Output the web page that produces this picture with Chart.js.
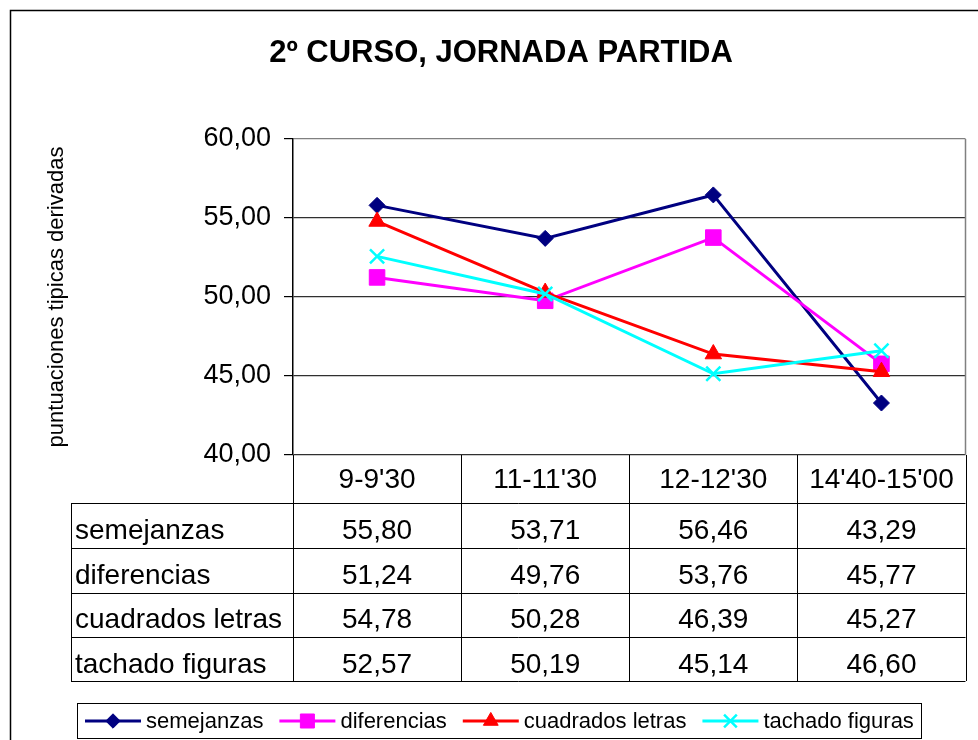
<!DOCTYPE html>
<html>
<head>
<meta charset="utf-8">
<script src="https://cdn.jsdelivr.net/npm/chart.js@4/dist/chart.umd.min.js"></script>
<style>
  body { margin:0; background:#fff; }
  #wrap { width:978px; height:740px; }
</style>
</head>
<body>
<div id="wrap"><canvas id="chart" width="978" height="740"></canvas></div>
<script>
// data
const TITLE = '2º CURSO, JORNADA PARTIDA';
const Y_TITLE = 'puntuaciones tipicas derivadas';
const categories = ["9-9'30", "11-11'30", "12-12'30", "14'40-15'00"];
const semejanzas = [55.80, 53.71, 56.46, 43.29];
const diferencias = [51.24, 49.76, 53.76, 45.77];
const cuadrados = [54.78, 50.28, 46.39, 45.27];
const tachado = [52.57, 50.19, 45.14, 46.60];
const seriesNames = ['semejanzas', 'diferencias', 'cuadrados letras', 'tachado figuras'];

const FONT = "'Liberation Sans', Arial, sans-serif";
const fmt = v => v.toFixed(2).replace('.', ',');

const styles = [
  {color:'#000080', pointStyle:'rectRot', radius:8},
  {color:'#FF00FF', pointStyle:'rect', radius:11},
  {color:'#FF0000', pointStyle:'triangle', radius:9.5},
  {color:'#00FFFF', pointStyle:'crossRot', radius:10}
];
const values = [semejanzas, diferencias, cuadrados, tachado];

const datasets = values.map((d, i) => ({
  label: seriesNames[i],
  data: d,
  borderColor: styles[i].color,
  backgroundColor: styles[i].color,
  borderWidth: 3,
  pointStyle: styles[i].pointStyle,
  pointRadius: styles[i].radius,
  pointHoverRadius: styles[i].radius,
  pointBorderWidth: styles[i].pointStyle === 'crossRot' ? 2.5 : 1,
  tension: 0,
  order: 4 - i
}));

// white background, outer frame, title
const frame = {
  id: 'frame',
  beforeDraw(chart) {
    const c = chart.ctx;
    c.save();
    c.fillStyle = '#fff';
    c.fillRect(0, 0, chart.width, chart.height);
    c.strokeStyle = '#000'; c.lineWidth = 1.5;
    c.beginPath();
    c.moveTo(10.5, 740); c.lineTo(10.5, 10.5); c.lineTo(978, 10.5);
    c.stroke();
    c.fillStyle = '#000';
    c.font = 'bold 31px ' + FONT;
    c.textAlign = 'center'; c.textBaseline = 'alphabetic';
    c.fillText(TITLE, 501, 62);
    c.restore();
  },
  afterDraw(chart) {
    const c = chart.ctx, a = chart.chartArea;
    c.save();
    c.strokeStyle = '#808080'; c.lineWidth = 1.5;
    c.beginPath();
    c.moveTo(a.right, a.top); c.lineTo(a.right, a.bottom);
    c.stroke();
    c.restore();
  }
};

// data table under the plot, columns taken from the x scale
const table = {
  id: 'table',
  afterDraw(chart) {
    const c = chart.ctx, a = chart.chartArea, x = chart.scales.x;
    const rowTops = [503, 548, 592.5, 637, 681];
    const labelLeft = 71;
    const cx = categories.map((_, i) => x.getPixelForValue(i));
    const edges = [a.left];
    for (let i = 0; i < cx.length - 1; i++) edges.push((cx[i] + cx[i + 1]) / 2);
    edges.push(a.right);
    const bottom = rowTops[rowTops.length - 1];

    c.save();
    c.strokeStyle = '#000'; c.lineWidth = 1;
    c.beginPath();
    edges.forEach(e => { const px = Math.round(e) + 0.5; c.moveTo(px, a.bottom); c.lineTo(px, bottom); });
    c.moveTo(labelLeft + 0.5, rowTops[0]); c.lineTo(labelLeft + 0.5, bottom);
    rowTops.forEach(t => { const py = Math.round(t) + 0.5; c.moveTo(labelLeft, py); c.lineTo(a.right, py); });
    c.stroke();

    c.fillStyle = '#000';
    c.font = '28px ' + FONT;
    c.textBaseline = 'alphabetic';
    c.textAlign = 'center';
    categories.forEach((cat, i) => c.fillText(cat, cx[i], a.bottom + 33));
    values.forEach((d, r) => {
      const base = rowTops[r] + 35.5;
      c.textAlign = 'left';
      c.fillText(seriesNames[r], labelLeft + 4, base);
      c.textAlign = 'center';
      d.forEach((v, i) => c.fillText(fmt(v), cx[i], base));
    });
    c.restore();
  }
};

// legend box: line + marker + name
const legendBox = {
  id: 'legendBox',
  afterDraw(chart) {
    const c = chart.ctx;
    const top = 703, bot = 738, left = 77, right = 921, cy = 721;
    c.save();
    c.fillStyle = '#fff';
    c.fillRect(left, top, right - left, bot - top);
    c.strokeStyle = '#000'; c.lineWidth = 1;
    c.strokeRect(left + 0.5, top + 0.5, right - left, bot - top);
    c.font = '22px ' + FONT;
    c.textBaseline = 'middle'; c.textAlign = 'left';
    let px = 85;
    chart.data.datasets.forEach((ds, i) => {
      c.strokeStyle = ds.borderColor; c.fillStyle = ds.backgroundColor;
      c.lineWidth = 3;
      c.beginPath(); c.moveTo(px, cy); c.lineTo(px + 56, cy); c.stroke();
      c.lineWidth = ds.pointBorderWidth;
      Chart.helpers.drawPoint(c, {pointStyle: ds.pointStyle, radius: ds.pointRadius * 0.9, rotation: 0, borderWidth: ds.pointBorderWidth}, px + 28, cy);
      c.fillStyle = '#000';
      c.fillText(ds.label, px + 61, cy + 1);
      px += 61 + c.measureText(ds.label).width + 16;
    });
    c.restore();
  }
};

new Chart(document.getElementById('chart'), {
  type: 'line',
  data: { labels: categories, datasets: datasets },
  options: {
    responsive: false,
    animation: false,
    layout: { padding: { left: 0, top: 139, right: 10, bottom: 285 } },
    plugins: {
      legend: { display: false },
      title: { display: false },
      tooltip: { enabled: false }
    },
    scales: {
      x: {
        type: 'category',
        offset: true,
        display: false
      },
      y: {
        min: 40, max: 60,
        afterFit: s => { s.width = 293; },
        ticks: {
          stepSize: 5,
          color: '#000',
          padding: 13,
          font: { family: FONT, size: 27 },
          callback: v => fmt(v)
        },
        grid: {
          color: ctx => ctx.tick && ctx.tick.value === 60 ? '#808080' : '#303030',
          lineWidth: 1.2,
          tickColor: '#000',
          tickLength: 9
        },
        border: { color: '#000', width: 1.5 },
        title: {
          display: true,
          text: Y_TITLE,
          color: '#000',
          font: { family: FONT, size: 22 },
          padding: { top: 44, bottom: 0 }
        }
      }
    }
  },
  plugins: [frame, table, legendBox]
});
</script>
</body>
</html>
